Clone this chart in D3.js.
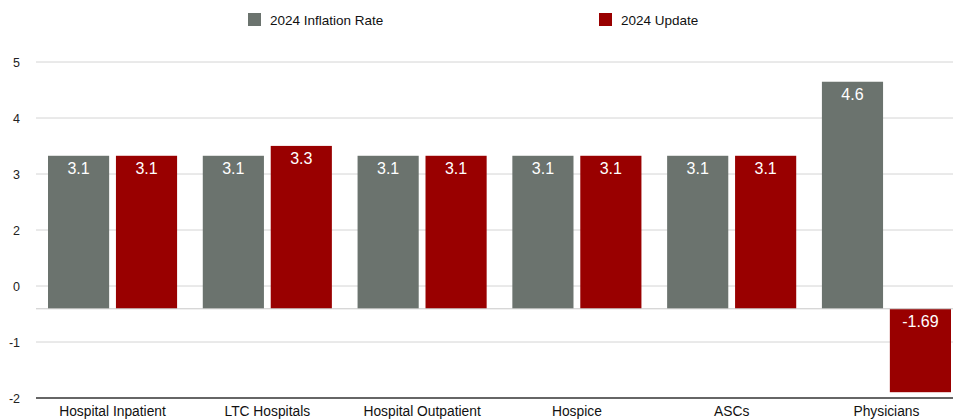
<!DOCTYPE html>
<html>
<head>
<meta charset="utf-8">
<script src="https://cdn.jsdelivr.net/npm/d3@7"></script>
<style>
  body { margin: 0; background: #fff; }
  text { font-family: "Liberation Sans", Arial, Helvetica, sans-serif; }
</style>
</head>
<body>
<div id="chart"></div>
<script>
// data
const categories = ["Hospital Inpatient", "LTC Hospitals", "Hospital Outpatient", "Hospice", "ASCs", "Physicians"];
const seriesNames = ["2024 Inflation Rate", "2024 Update"];
const inflationRate = [3.1, 3.1, 3.1, 3.1, 3.1, 4.6];
const update2024 = [3.1, 3.3, 3.1, 3.1, 3.1, -1.69];
const tickLabels = ["5", "4", "3", "2", "0", "-1", "-2"];
const colors = ["#6b736e", "#990000"];

const width = 953, height = 420;

const svg = d3.select("#chart")
  .append("svg")
  .attr("width", width)
  .attr("height", height);

// scales
const x0 = d3.scaleBand()
  .domain(categories)
  .range([48, 951])
  .paddingInner(0.166)
  .paddingOuter(0);

const x1 = d3.scaleBand()
  .domain(seriesNames)
  .range([0, x0.bandwidth()])
  .paddingInner(0.1);

// bar value scale
const y = d3.scaleLinear()
  .domain([-2, 5])
  .range([407.5, 62]);

// tick label positions (as printed on the chart)
const yTicks = d3.scalePoint()
  .domain(tickLabels)
  .range([62, 398]);

// gridlines
svg.append("g")
  .selectAll("line")
  .data(tickLabels.slice(0, -1))
  .enter()
  .append("line")
  .attr("x1", 36)
  .attr("x2", width)
  .attr("y1", d => yTicks(d))
  .attr("y2", d => yTicks(d))
  .attr("stroke", "#d4d4d4")
  .attr("stroke-width", 1);

// tick labels
svg.append("g")
  .selectAll("text")
  .data(tickLabels)
  .enter()
  .append("text")
  .attr("x", 20)
  .attr("y", d => yTicks(d) + 4.5)
  .attr("text-anchor", "end")
  .attr("font-size", 12.5)
  .attr("fill", "#222")
  .text(d => d);

// rows for bars
const rows = categories.map((c, i) => ({
  category: c,
  values: [
    { series: seriesNames[0], value: inflationRate[i] },
    { series: seriesNames[1], value: update2024[i] }
  ]
}));

const groups = svg.append("g")
  .selectAll("g")
  .data(rows)
  .enter()
  .append("g")
  .attr("transform", d => `translate(${x0(d.category)},0)`);

groups.selectAll("rect")
  .data(d => d.values)
  .enter()
  .append("rect")
  .attr("x", d => x1(d.series))
  .attr("width", x1.bandwidth())
  .attr("y", d => y(Math.max(0, d.value)))
  .attr("height", d => Math.abs(y(d.value) - y(0)))
  .attr("fill", (d, i) => colors[i]);

groups.selectAll("text")
  .data(d => d.values)
  .enter()
  .append("text")
  .attr("x", d => x1(d.series) + x1.bandwidth() / 2)
  .attr("y", d => (d.value >= 0 ? y(d.value) : y(0)) + 18.5)
  .attr("text-anchor", "middle")
  .attr("font-size", 16)
  .attr("fill", "#fff")
  .text(d => d.value);

// baseline gridline at bar zero
svg.append("line")
  .attr("x1", 36)
  .attr("x2", width)
  .attr("y1", y(0))
  .attr("y2", y(0))
  .attr("stroke", "#c8c8c8")
  .attr("stroke-width", 1);

// bottom axis line
svg.append("line")
  .attr("x1", 36)
  .attr("x2", width)
  .attr("y1", yTicks("-2"))
  .attr("y2", yTicks("-2"))
  .attr("stroke", "#333")
  .attr("stroke-width", 1.5);

// category labels
svg.append("g")
  .selectAll("text")
  .data(categories)
  .enter()
  .append("text")
  .attr("x", d => x0(d) + x0.bandwidth() / 2)
  .attr("y", 416)
  .attr("text-anchor", "middle")
  .attr("font-size", 13.8)
  .attr("fill", "#111")
  .text(d => d);

// legend
const legendX = [248, 599];
const legend = svg.append("g")
  .selectAll("g")
  .data(seriesNames)
  .enter()
  .append("g")
  .attr("transform", (d, i) => `translate(${legendX[i]},13)`);

legend.append("rect")
  .attr("width", 13)
  .attr("height", 13)
  .attr("fill", (d, i) => colors[i]);

legend.append("text")
  .attr("x", 22)
  .attr("y", 11.5)
  .attr("font-size", 13.5)
  .attr("fill", "#111")
  .text(d => d);
</script>
</body>
</html>
